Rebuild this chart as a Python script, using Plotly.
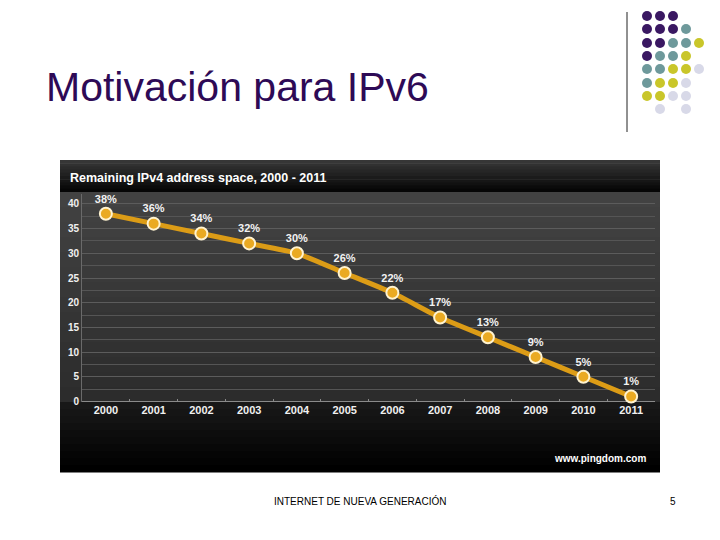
import plotly.graph_objects as go

years = [2000, 2001, 2002, 2003, 2004, 2005, 2006, 2007, 2008, 2009, 2010, 2011]
remaining = [38, 36, 34, 32, 30, 26, 22, 17, 13, 9, 5, 1]
y_ticks = [0, 5, 10, 15, 20, 25, 30, 35, 40]

slide_title = "Motivación para IPv6"
chart_title = "Remaining IPv4 address space, 2000 - 2011"
source = "www.pingdom.com"
footer = "INTERNET DE NUEVA GENERACIÓN"
page_no = "5"

OFF = 8  # page body margin
W, H = 720 - 2 * OFF, 540 - 2 * OFF


def px(x):
    return (x - OFF) / W


def py(y):
    return 1 - (y - OFF) / H


def lerp_color(c1, c2, t):
    a = [int(c1[i:i + 2], 16) for i in (1, 3, 5)]
    b = [int(c2[i:i + 2], 16) for i in (1, 3, 5)]
    return "#" + "".join(f"{round(a[i] + (b[i] - a[i]) * t):02x}" for i in range(3))


shapes = []


def gradient(x0, x1, y0, y1, c_top, c_bot, n=12):
    h = (y1 - y0) / n
    for i in range(n):
        shapes.append(dict(type="rect", xref="paper", yref="paper",
                           x0=px(x0), x1=px(x1), y0=py(y0 + (i + 1) * h + 0.5), y1=py(y0 + i * h),
                           fillcolor=lerp_color(c_top, c_bot, i / max(n - 1, 1)),
                           line=dict(width=0), layer="below"))


# chart panel background
gradient(60, 660, 160, 192, "#363636", "#060606", 10)
gradient(60, 660, 192, 402, "#424242", "#2c2c2c", 14)
gradient(60, 660, 402, 472, "#181818", "#000000", 10)

# decorative dots (top right)
dot_cols = [647, 660, 673, 686, 699]
dot_rows = [16, 29, 43, 56, 69, 83, 96, 109]
palette = {"P": "#3a1862", "T": "#6e999b", "Y": "#c9c62a", "L": "#d8d9e8"}
pattern = ["PPP..", "PPPT.", "PPTTY", "PTTY.", "TTYYL", "TYYL.", "YYLL.", ".L.L."]
for r, row in enumerate(pattern):
    for c, ch in enumerate(row):
        if ch == ".":
            continue
        cx, cy = dot_cols[c], dot_rows[r]
        shapes.append(dict(type="circle", xref="paper", yref="paper",
                           x0=px(cx - 5), x1=px(cx + 5), y0=py(cy + 5), y1=py(cy - 5),
                           fillcolor=palette[ch], line=dict(width=0)))
shapes.append(dict(type="line", xref="paper", yref="paper",
                   x0=px(627), x1=px(627), y0=py(132), y1=py(12),
                   line=dict(color="#222222", width=1)))

fig = go.Figure()
fig.add_trace(go.Scatter(
    x=years, y=remaining, mode="lines+markers+text",
    text=[f"<b>{v}%</b>" for v in remaining], textposition="top center",
    textfont=dict(family="Arial, Liberation Sans", size=11, color="#f2f2f2"),
    line=dict(color="#dc9c16", width=5, shape="spline", smoothing=0.5),
    marker=dict(size=12, color="#eaaa22", line=dict(color="#fff3d0", width=2)),
    cliponaxis=False, showlegend=False, hoverinfo="skip",
))

annotations = [
    dict(text=slide_title, x=px(44), y=py(87), xanchor="left", yanchor="middle",
         font=dict(family="Arial, Liberation Sans", size=41, color="#2e0a56")),
    dict(text=f"<b>{chart_title}</b>", x=px(68), y=py(178), xanchor="left", yanchor="middle",
         font=dict(family="Arial, Liberation Sans", size=12.5, color="#ffffff")),
    dict(text=f"<b>{source}</b>", x=px(648), y=py(458), xanchor="right", yanchor="middle",
         font=dict(family="Arial, Liberation Sans", size=10, color="#ffffff")),
    dict(text=footer, x=px(360), y=py(501), xanchor="center", yanchor="middle",
         font=dict(family="Arial, Liberation Sans", size=10, color="#000000")),
    dict(text=page_no, x=px(673), y=py(501), xanchor="center", yanchor="middle",
         font=dict(family="Arial, Liberation Sans", size=10, color="#000000")),
]
for a in annotations:
    a.update(xref="paper", yref="paper", showarrow=False)

y0_px, unit = 401.5, 4.94
ymax = 42
fig.update_layout(
    width=W, height=H, autosize=False,
    margin=dict(l=0, r=0, t=0, b=0, pad=0, autoexpand=False),
    paper_bgcolor="#ffffff", plot_bgcolor="rgba(0,0,0,0)",
    shapes=shapes, annotations=annotations,
    xaxis=dict(domain=[px(82), px(655)], range=[1999.5, 2011.5], automargin=False,
               tickvals=years, ticktext=[f"<b>{y}</b>" for y in years],
               tickfont=dict(family="Arial, Liberation Sans", size=11, color="#f0f0f0"),
               showgrid=False, zeroline=False, showline=False, ticks="",
               minor=dict(tickvals=[y + 0.5 for y in years[:-1]], ticks="inside",
                          ticklen=3, tickcolor="#8a8a8a", showgrid=False)),
    yaxis=dict(domain=[py(y0_px), py(y0_px - ymax * unit)], range=[0, ymax], automargin=False,
               tickvals=y_ticks, ticktext=[f"<b>{v}</b>" for v in y_ticks],
               tickfont=dict(family="Arial, Liberation Sans", size=10, color="#f0f0f0"),
               showgrid=True, gridcolor="#5c5c5c", gridwidth=1,
               minor=dict(dtick=2.5, showgrid=True, gridcolor="#555555", gridwidth=1),
               zeroline=True, zerolinecolor="#8a8a8a", zerolinewidth=1,
               showline=True, linecolor="#6a6a6a", linewidth=1, ticks=""),
)

fig.write_html("out.html")
